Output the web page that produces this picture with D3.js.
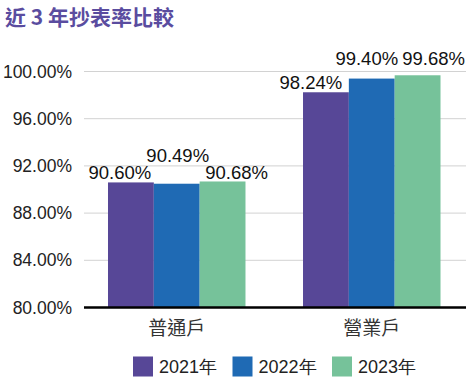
<!DOCTYPE html>
<html><head><meta charset="utf-8">
<script src="https://cdn.jsdelivr.net/npm/d3@7/dist/d3.min.js"></script>
<style>
html,body{margin:0;padding:0;background:#fff;}
svg{display:block;font-family:"Liberation Sans",Arial,sans-serif;}
</style></head>
<body><svg id="c" width="466" height="378"></svg>
<script>
const title = "近 3 年抄表率比較";
const categories = ["普通戶", "營業戶"];
const seriesNames = ["2021年", "2022年", "2023年"];
const values2021 = [90.60, 98.24];
const values2022 = [90.49, 99.40];
const values2023 = [90.68, 99.68];
const yTicks = [80, 84, 88, 92, 96, 100];
const colors = ["#574797", "#1f6ab4", "#76c29a"];

const seriesValues = [values2021, values2022, values2023];
const svg = d3.select("#c");

svg.append("text").attr("x", 5).attr("y", 25)
  .attr("font-size", 21).attr("font-weight", "bold")
  .attr("fill", "#5a4c9f")
  .attr("font-family", "'Noto Sans CJK TC','Liberation Sans',sans-serif")
  .text(title);

const plotLeft = 84, plotRight = 466;
const y = d3.scaleLinear().domain([80, 100]).range([307.5, 71.5]);
const x0 = d3.scaleBand().domain(categories).range([79.25, 469.25])
  .paddingInner(0.295).paddingOuter(0.1474);
const x1 = d3.scaleBand().domain(seriesNames).range([0, x0.bandwidth()]);

// grid
svg.append("g").selectAll("line").data(yTicks.filter(t => t !== 80)).join("line")
  .attr("x1", plotLeft).attr("x2", plotRight)
  .attr("y1", d => y(d)).attr("y2", d => y(d))
  .attr("stroke", "#d2d2d2").attr("stroke-width", 1);

// y labels
svg.append("g").selectAll("text").data(yTicks).join("text")
  .attr("x", 72).attr("y", d => y(d)).attr("dy", "0.35em")
  .attr("text-anchor", "end").attr("font-size", 17.5).attr("fill", "#222")
  .text(d => d3.format(".2f")(d) + "%");

// bars
const rows = [];
categories.forEach((c, ci) => seriesNames.forEach((s, si) =>
  rows.push({c, s, si, ci, v: seriesValues[si][ci]})));

svg.append("g").selectAll("rect").data(rows).join("rect")
  .attr("x", d => x0(d.c) + x1(d.s))
  .attr("width", x1.bandwidth())
  .attr("y", d => y(d.v))
  .attr("height", d => y(80) - y(d.v))
  .attr("fill", d => colors[d.si]);

// value labels (offsets to avoid overlap, as in the reference)
const labelShift = [[[-11, -3], [1, -22], [14, -2]], [[-15, -3], [-5, -14], [16, -10]]];
svg.append("g").selectAll("text").data(rows).join("text")
  .attr("x", d => x0(d.c) + x1(d.s) + x1.bandwidth() / 2 + labelShift[d.ci][d.si][0])
  .attr("y", d => y(d.v) + labelShift[d.ci][d.si][1])
  .attr("text-anchor", "middle").attr("font-size", 18.5).attr("fill", "#111")
  .text(d => d3.format(".2f")(d.v) + "%");

// axis baseline
svg.append("line").attr("x1", plotLeft).attr("x2", plotRight)
  .attr("y1", y(80)).attr("y2", y(80))
  .attr("stroke", "#000").attr("stroke-width", 2.5);

// category labels
svg.append("g").selectAll("text").data(categories).join("text")
  .attr("x", d => x0(d) + x0.bandwidth() / 2).attr("y", 335)
  .attr("text-anchor", "middle").attr("font-size", 19).attr("fill", "#333")
  .attr("font-family", "'Noto Sans CJK TC',sans-serif")
  .text(d => d);

// legend
const lg = svg.append("g").selectAll("g").data(seriesNames).join("g")
  .attr("transform", (d, i) => `translate(${133 + i * 99.5},356.5)`);
lg.append("rect").attr("width", 20).attr("height", 20).attr("fill", (d, i) => colors[i]);
lg.append("text").attr("x", 26).attr("y", 10).attr("dy", "0.35em")
  .attr("font-size", 18).attr("fill", "#222")
  .text(d => d);
</script></body></html>
